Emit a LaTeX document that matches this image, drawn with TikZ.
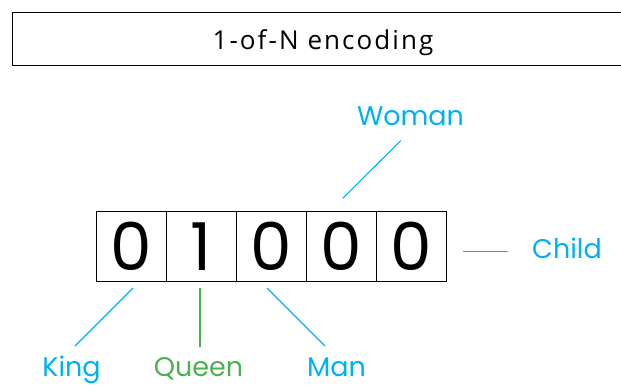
\documentclass[tikz,border=0pt]{standalone}
\usepackage{fontspec}
\setmainfont{Poppins}
\newfontfamily\titlefont[LetterSpace=8]{Open Sans}
\definecolor{skyblue}{HTML}{00B0F0}
\definecolor{leafgreen}{HTML}{4CAF50}
\begin{document}
\begin{tikzpicture}[x=1pt,y=-1pt,
  cell/.style={draw=black,line width=0.9pt,minimum width=70pt,minimum height=70pt,inner sep=0pt},
  digit/.style={anchor=base,inner sep=0pt,font=\fontsize{66}{66}\selectfont},
  lbl/.style={anchor=base,inner sep=0pt,font=\fontsize{27}{27}\selectfont},
  link/.style={line width=1.1pt}]
\useasboundingbox (0,0) rectangle (621,385);
\clip (0,0) rectangle (621,385);
% title bar, running off the right edge
\node[draw=black,line width=0.9pt,minimum width=640pt,minimum height=53pt,anchor=north west,inner sep=0pt] (titlebar) at (12,12) {};
\node[anchor=base,inner sep=0pt,font=\titlefont\fontsize{26}{26}\selectfont] (title) at (323,50) {1-of-N encoding};
% the code vector
\foreach \d [count=\i] in {0,1,0,0,0} {
  \node[cell] (c\i) at (61+70*\i,246.5) {};
  \node[digit] (d\i) at (61+70*\i,270) {\d};
}
% word labels
\node[lbl,text=skyblue] (king) at (71.5,376) {King};
\node[lbl,text=leafgreen] (queen) at (198.5,376) {Queen};
\node[lbl,text=skyblue] (man) at (336.5,376) {Man};
\node[lbl,text=skyblue] (woman) at (410.5,126) {Woman};
\node[lbl,text=skyblue] (child) at (567,258) {Child};
% connector ends
\coordinate (k1) at (133,288); \coordinate (k2) at (75,346);
\coordinate (q1) at (200,288); \coordinate (q2) at (200,347);
\coordinate (m1) at (267,288); \coordinate (m2) at (325,346);
\coordinate (w1) at (342.7,198.3); \coordinate (w2) at (400.7,140.7);
\coordinate (h1) at (462.7,251.7); \coordinate (h2) at (508.3,251.7);
\draw[link,skyblue] (k1) -- (k2);
\draw[link,leafgreen] (q1) -- (q2);
\draw[link,skyblue] (m1) -- (m2);
\draw[link,skyblue] (w1) -- (w2);
\draw[link,skyblue] (h1) -- (h2);
\end{tikzpicture}
\end{document}
